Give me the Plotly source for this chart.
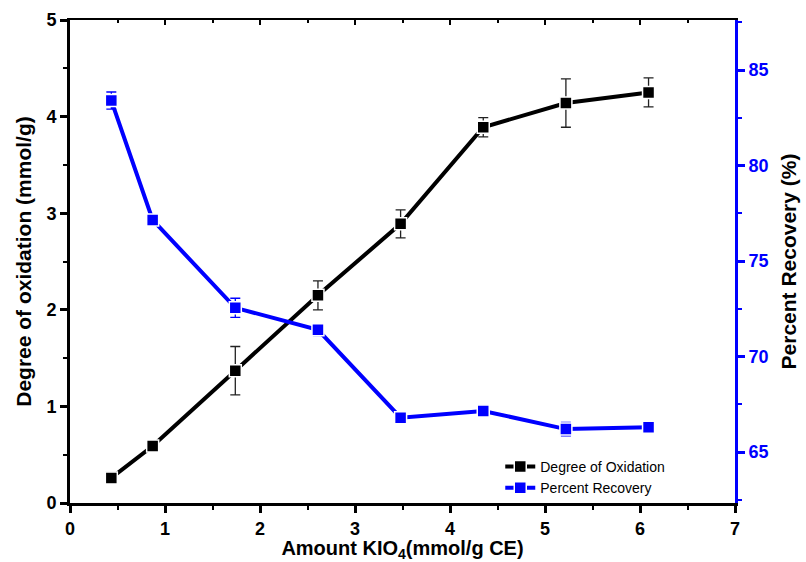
import plotly.graph_objects as go

amount_kio4 = [0.435, 0.87, 1.74, 2.61, 3.48, 4.35, 5.22, 6.09]
degree_oxidation = [0.26, 0.59, 1.37, 2.15, 2.89, 3.89, 4.14, 4.25]
degree_err = [0.02, 0.02, 0.25, 0.15, 0.145, 0.1, 0.25, 0.15]
percent_recovery = [83.4, 77.15, 72.55, 71.4, 66.8, 67.15, 66.2, 66.3]
recovery_err = [0.45, 0.25, 0.5, 0.3, 0.1, 0.1, 0.35, 0.25]

FONT = "Liberation Sans, Arial, sans-serif"
BLUE = "#0000FF"

fig = go.Figure()
fig.add_trace(go.Scatter(
    x=amount_kio4, y=degree_oxidation, name="Degree of Oxidation",
    mode="lines+markers",
    line=dict(color="black", width=4),
    marker=dict(symbol="square", size=12, color="black", line=dict(color="white", width=1.5)),
    error_y=dict(type="data", array=degree_err, color="#222222", thickness=1.3, width=5),
    yaxis="y", xaxis="x",
))
fig.add_trace(go.Scatter(
    x=amount_kio4, y=percent_recovery, name="Percent Recovery",
    mode="lines+markers",
    line=dict(color=BLUE, width=4),
    marker=dict(symbol="square", size=12, color=BLUE, line=dict(color="white", width=1.5)),
    error_y=dict(type="data", array=recovery_err, color=BLUE, thickness=1.3, width=5),
    yaxis="y2", xaxis="x",
))

tickfont = dict(family=FONT, size=18, color="black", weight="bold")
titlefont = dict(family=FONT, size=21, color="black", weight="bold")
fig.update_layout(
    width=806, height=562,
    margin=dict(l=70, r=71, t=20, b=59),
    paper_bgcolor="white", plot_bgcolor="white",
    font=dict(family=FONT),
    xaxis=dict(
        range=[0, 7], dtick=1, showgrid=False, zeroline=False, automargin=False,
        showline=True, linecolor="black", linewidth=3,
        ticks="outside", ticklen=7, tickwidth=2.5, tickcolor="black",
        minor=dict(dtick=0.5, ticks="outside", ticklen=4, tickwidth=2, tickcolor="black"),
        tickfont=tickfont,
        title=dict(text="Amount KIO<sub>4</sub>(mmol/g CE)",
                   font=dict(family=FONT, size=20, color="black", weight="bold"), standoff=7),
    ),
    xaxis2=dict(
        range=[0, 7], dtick=1, overlaying="x", side="top", showgrid=False, zeroline=False,
        showline=True, linecolor="black", linewidth=2, automargin=False,
        ticks="inside", ticklen=5, tickwidth=2, tickcolor="black", showticklabels=False,
        minor=dict(dtick=0.5, ticks="inside", ticklen=3, tickwidth=2, tickcolor="black"),
    ),
    yaxis=dict(
        range=[0, 5], dtick=1, showgrid=False, zeroline=False, automargin=False,
        showline=True, linecolor="black", linewidth=3,
        ticks="outside", ticklen=7, tickwidth=2.5, tickcolor="black",
        minor=dict(dtick=0.5, ticks="outside", ticklen=4, tickwidth=2, tickcolor="black"),
        tickfont=tickfont,
        title=dict(text="Degree of oxidation (mmol/g)", font=titlefont, standoff=10),
    ),
    yaxis2=dict(
        range=[62.33, 87.62], dtick=5, tick0=65, overlaying="y", side="right",
        showgrid=False, zeroline=False, automargin=False,
        showline=True, linecolor=BLUE, linewidth=3,
        ticks="outside", ticklen=7, tickwidth=2.5, tickcolor=BLUE,
        minor=dict(dtick=2.5, tick0=65, ticks="outside", ticklen=4, tickwidth=2, tickcolor=BLUE),
        tickfont=dict(family=FONT, size=18, color=BLUE, weight="bold"),
        title=dict(text="Percent Recovery (%)", font=titlefont, standoff=14),
    ),
    legend=dict(
        x=0.647, y=0.108, xanchor="left", yanchor="top",
        bgcolor="rgba(0,0,0,0)", borderwidth=0,
        font=dict(family=FONT, size=14, color="black"),
        tracegroupgap=0, itemwidth=30,
    ),
    showlegend=True,
)
fig.add_trace(go.Scatter(x=[0], y=[0], xaxis="x2", yaxis="y", showlegend=False,
                         mode="markers", marker=dict(opacity=0), hoverinfo="skip"))

fig.write_html("out.html")
